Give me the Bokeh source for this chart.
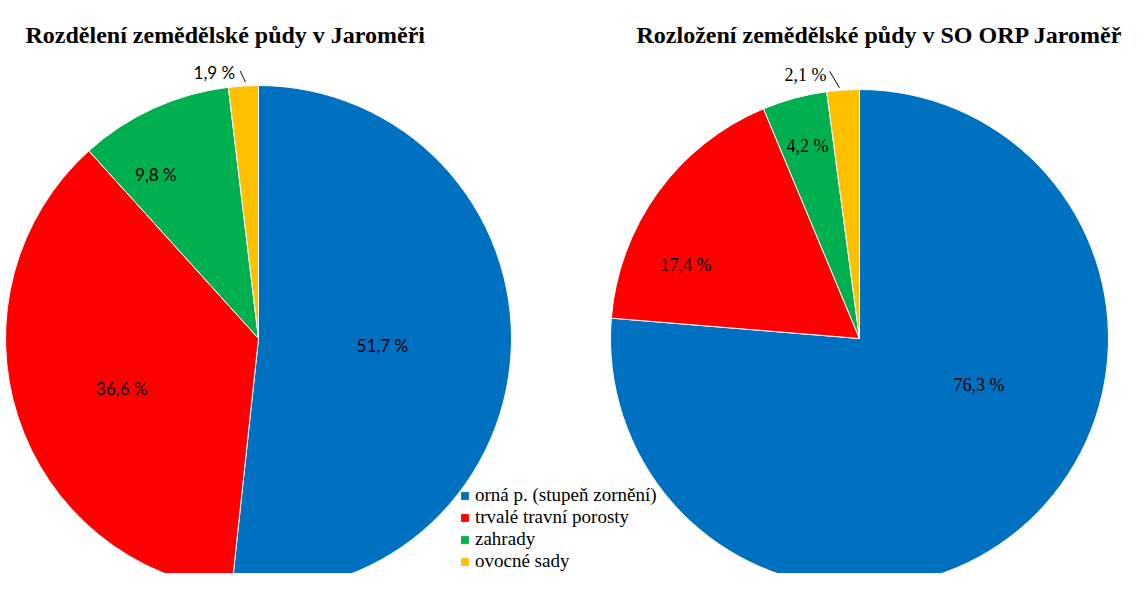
import numpy as np
from bokeh.plotting import figure
from bokeh.models import ColumnDataSource, Range1d, Label, Legend, LegendItem
from bokeh.core.properties import value
from bokeh.embed import file_html
from bokeh.resources import INLINE

# ---------------- data ----------------
categories = ["orná p. (stupeň zornění)", "trvalé travní porosty", "zahrady", "ovocné sady"]
jaromer = [51.7, 36.6, 9.8, 1.9]          # Rozdělení zemědělské půdy v Jaroměři
orp_jaromer = [76.3, 17.4, 4.2, 2.1]      # Rozložení zemědělské půdy v SO ORP Jaroměř
colors = ["#0070C0", "#FF0000", "#00B050", "#FFC000"]
title_left = "Rozdělení zemědělské půdy v Jaroměři"
title_right = "Rozložení zemědělské půdy v SO ORP Jaroměř"

# ---------------- layout ----------------
W, H = 1128, 573
TOP = 589  # data y = TOP - image y

p = figure(width=W, height=H, x_range=Range1d(0, W), y_range=Range1d(TOP - H, TOP),
           output_backend="svg", toolbar_location=None, min_border=0,
           x_axis_location=None, y_axis_location=None)
p.grid.visible = False
p.outline_line_color = None
p.background_fill_color = "white"


def pie(values, cx, cy, R, font, fsize, nudge, rfrac, leader):
    vals = np.array(values, dtype=float)
    frac = vals / vals.sum()
    cum_after = np.cumsum(frac)
    cum_before = cum_after - frac
    start = np.pi / 2 - cum_before * 2 * np.pi
    end = np.pi / 2 - cum_after * 2 * np.pi
    src = ColumnDataSource(dict(start=start, end=end, color=colors, cat=categories))
    r = p.wedge(x=cx, y=cy, radius=R, start_angle="start", end_angle="end",
                direction="clock", fill_color="color", line_color="white",
                line_width=1, source=src)
    # labels: clockwise angle from top of slice midpoint (+ layout nudge)
    mid = (cum_before + frac / 2) * 360.0
    theta = np.radians(mid + np.array(nudge))
    rr = np.array(rfrac) * R
    lx = cx + rr * np.sin(theta)
    ly = cy + rr * np.cos(theta)
    texts = [f"{v:.1f} %".replace(".", ",") for v in values]
    lsrc = ColumnDataSource(dict(x=lx, y=ly, t=texts))
    p.text(x="x", y="y", text="t", source=lsrc, text_font=value(font),
           text_font_size=fsize, text_align="center", text_baseline="middle",
           text_color="black")
    # leader line for the small slice (last)
    (n0, r0), (n1, r1) = leader
    t0 = np.radians(mid[-1] + n0)
    t1 = np.radians(mid[-1] + n1)
    p.segment(x0=[cx + r0 * R * np.sin(t0)], y0=[cy + r0 * R * np.cos(t0)],
              x1=[cx + r1 * R * np.sin(t1)], y1=[cy + r1 * R * np.cos(t1)],
              line_color="black", line_width=1)
    return r


r_left = pie(jaromer, 258, TOP - 338, 253, "Lato", "17px",
             nudge=[0, -2, -7.5, -6], rfrac=[0.49, 0.575, 0.766, 1.067],
             leader=((0.5, 1.015), (-0.5, 1.06)))
r_right = pie(orp_jaromer, 859, TOP - 338, 249, "Liberation Serif", "18px",
              nudge=[-26, -13, 0, -7.8], rfrac=[0.515, 0.757, 0.80, 1.079],
              leader=((-0.8, 1.01), (-2.6, 1.08)))

# titles
for txt, x in ((title_left, 25), (title_right, 636)):
    p.add_layout(Label(x=x, y=TOP - 34, text=txt, text_font="Liberation Serif",
                       text_font_style="bold", text_font_size="24px",
                       text_align="left", text_baseline="alphabetic",
                       text_color="black"))

# legend (placed between the pies, kept inside the frame)
items = [LegendItem(label=c, renderers=[r_left], index=i) for i, c in enumerate(categories)]
legend = Legend(items=items, location=(459, 1), orientation="vertical",
                glyph_width=11, glyph_height=11, label_height=18, spacing=0,
                label_standoff=5, padding=0, margin=0,
                label_text_font="Liberation Serif", label_text_font_size="19px",
                label_text_color="black",
                background_fill_alpha=0, border_line_color=None)
p.add_layout(legend, "center")

open("out.html", "w").write(file_html(p, INLINE))
